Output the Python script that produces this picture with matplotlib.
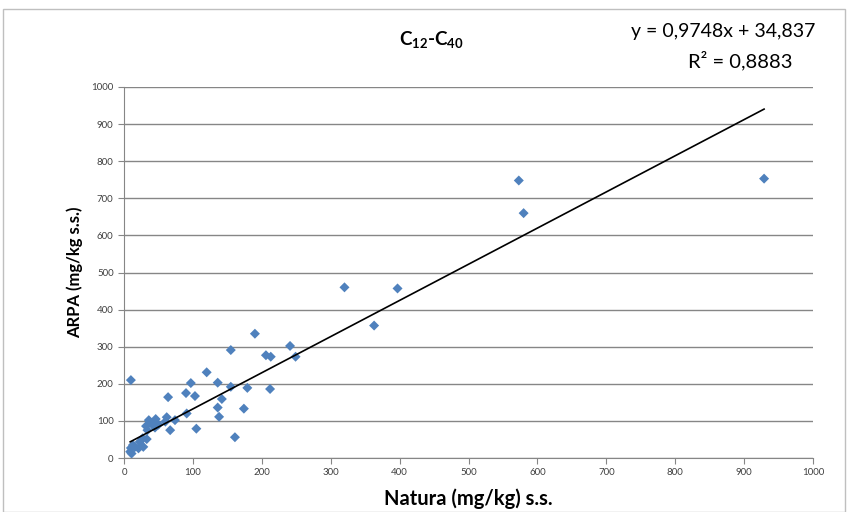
import matplotlib.pyplot as plt
import numpy as np
from matplotlib.patches import Rectangle

plt.rcParams['font.family'] = ['Lato', 'DejaVu Sans']
plt.rcParams['mathtext.default'] = 'regular'

# ----------------------------
# Data (Natura vs ARPA, mg/kg s.s.)
# ----------------------------
natura = [929, 573, 580, 397, 320, 363, 249, 241, 213, 206, 212, 190, 179,
          174, 161, 155, 155, 142, 136, 136, 138, 120, 97, 103, 90, 91, 105,
          64, 74, 67, 62, 60, 10, 46, 45, 36, 32, 34, 40, 33, 27, 28, 21,
          13, 10, 9, 11, 16, 23, 50]
arpa = [753, 748, 660, 457, 460, 357, 273, 302, 273, 277, 186, 335, 189,
        133, 56, 291, 192, 159, 203, 136, 111, 231, 202, 167, 175, 120, 79,
        164, 102, 75, 110, 98, 210, 105, 82, 102, 86, 75, 93, 51, 53, 30, 26,
        35, 27, 17, 12, 30, 44, 90]

slope = 0.9748
intercept = 34.837
r2 = 0.8883

x_ticks = list(range(0, 1001, 100))
y_ticks = list(range(0, 1001, 100))

# ----------------------------
# Plot
# ----------------------------
fig = plt.figure(figsize=(8.48, 5.12), dpi=100)
ax = fig.add_axes([124 / 848, 54 / 512, 689 / 848, 371 / 512])

fig.patches.append(Rectangle((0.004, 0.0), 0.993, 0.982, transform=fig.transFigure,
                             fill=False, edgecolor='#bfbfbf', linewidth=1))

ax.scatter(natura, arpa, marker='D', s=26, color='#4f81bd', edgecolors='none', zorder=3)

xfit = np.array([min(natura), max(natura)])
ax.plot(xfit, slope * xfit + intercept, color='black', linewidth=1.2, zorder=4)

ax.set_xlim(0, 1000)
ax.set_ylim(0, 1000)
ax.set_xticks(x_ticks)
ax.set_yticks(y_ticks)
ax.tick_params(labelsize=7, length=4, color='#868686', labelcolor='#404040', direction='out')
ax.grid(axis='y', color='#868686', linewidth=1)
ax.set_axisbelow(True)
for side in ['top', 'right']:
    ax.spines[side].set_visible(False)
for side in ['left', 'bottom']:
    ax.spines[side].set_color('#868686')

ax.set_xlabel('Natura (mg/kg) s.s.', fontsize=14.5, fontweight='bold', labelpad=8)
ax.set_ylabel('ARPA (mg/kg s.s.)', fontsize=12, fontweight='bold', labelpad=6)

fig.text(431 / 848, 1 - 40 / 512, r'C$_{12}$-C$_{40}$',
         ha='center', va='center', fontsize=13.5, fontweight='bold')
fig.text(815 / 848, 1 - 31 / 512, f'y = {slope:.4f}x + {intercept:.3f}'.replace('.', ','),
         ha='right', va='center', fontsize=14)
fig.text(792 / 848, 1 - 61 / 512, f'R² = {r2:.4f}'.replace('.', ','),
         ha='right', va='center', fontsize=14.5)

fig.savefig('out.png', dpi=100)
